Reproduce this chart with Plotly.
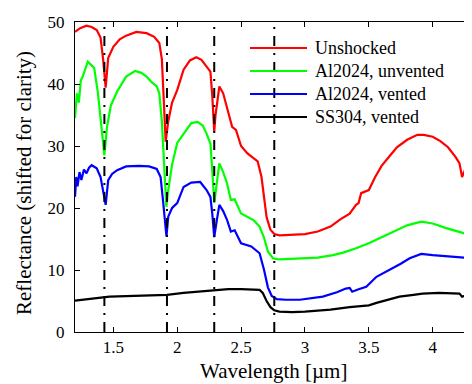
import plotly.graph_objects as go

# ---------------- data ----------------
red_x = [1.20,1.24,1.29,1.33,1.37,1.40,1.42,1.44,1.46,1.50,1.55,1.60,1.68,1.76,1.82,1.86,1.88,1.90,1.91,1.93,1.96,2.00,2.05,2.10,2.15,2.19,2.23,2.26,2.275,2.29,2.30,2.33,2.36,2.40,2.43,2.46,2.50,2.55,2.60,2.63,2.66,2.68,2.70,2.73,2.76,2.80,2.90,3.00,3.10,3.20,3.28,3.35,3.40,3.42,3.44,3.46,3.50,3.55,3.60,3.66,3.72,3.80,3.88,3.93,4.00,4.06,4.12,4.18,4.21,4.23,4.25,4.26,4.28,4.30]
red_y = [48.4,49.0,49.4,49.2,48.7,47.5,44.0,39.4,44.2,46.0,47.2,47.8,48.4,48.2,47.6,46.6,44.0,36.0,30.7,34.0,37.0,39.0,42.3,43.8,44.3,43.9,42.8,42.0,38.0,32.3,35.0,39.6,38.5,35.5,33.1,32.6,30.0,28.8,28.0,27.5,25.0,21.5,18.5,16.5,15.8,15.6,15.7,15.8,16.2,17.0,18.2,19.1,20.5,20.8,22.4,22.6,22.9,25.0,26.8,28.3,29.8,31.0,31.8,31.8,31.5,30.8,29.8,28.2,27.2,25.0,26.0,25.8,25.2,25.0]

green_x = [1.20,1.215,1.23,1.245,1.26,1.28,1.30,1.32,1.35,1.38,1.40,1.42,1.43,1.45,1.48,1.53,1.60,1.67,1.72,1.76,1.80,1.84,1.86,1.88,1.90,1.915,1.93,1.96,2.00,2.05,2.11,2.16,2.20,2.23,2.26,2.275,2.29,2.31,2.33,2.36,2.39,2.42,2.45,2.50,2.55,2.60,2.645,2.68,2.71,2.75,2.80,2.90,3.00,3.10,3.22,3.30,3.40,3.50,3.60,3.70,3.80,3.91,4.00,4.10,4.20,4.30]
green_y = [34.5,38.5,37.0,40.5,41.2,42.5,43.6,43.2,42.6,38.5,34.0,29.5,28.5,33.0,36.5,38.8,41.2,42.1,41.8,41.2,40.3,39.6,38.5,34.0,25.0,20.2,22.9,27.0,30.5,32.0,33.7,33.9,33.3,32.0,30.4,26.0,20.8,24.0,27.2,25.8,24.0,21.3,21.4,19.1,18.5,18.0,17.0,15.2,13.0,11.9,11.7,11.8,11.9,12.0,12.4,12.8,13.5,14.3,15.3,16.2,17.2,17.8,17.5,16.8,16.2,15.6]

blue_x = [1.20,1.21,1.22,1.235,1.25,1.27,1.29,1.31,1.33,1.37,1.40,1.42,1.44,1.46,1.49,1.53,1.60,1.70,1.78,1.84,1.87,1.89,1.905,1.916,1.93,1.96,2.00,2.05,2.11,2.18,2.23,2.26,2.275,2.29,2.31,2.33,2.36,2.39,2.42,2.45,2.50,2.58,2.645,2.68,2.71,2.74,2.78,2.85,2.96,3.05,3.14,3.25,3.32,3.35,3.37,3.42,3.48,3.56,3.66,3.75,3.82,3.91,4.00,4.10,4.20,4.30]
blue_y = [21.8,25.0,23.5,25.8,24.5,26.2,25.6,26.5,26.9,26.4,25.0,22.5,20.5,24.5,25.5,26.1,26.7,26.8,26.7,26.3,25.0,21.0,17.0,15.4,18.6,20.0,20.8,23.4,24.1,24.2,22.9,21.8,19.0,15.3,18.0,20.5,19.5,18.1,16.2,16.4,14.3,13.8,12.7,10.0,7.2,5.8,5.3,5.2,5.2,5.4,5.7,6.4,7.0,7.1,6.5,6.9,7.3,8.9,10.0,11.0,11.9,12.6,12.4,12.2,12.1,11.9]

black_x = [1.20,1.30,1.40,1.47,1.60,1.75,1.92,2.05,2.20,2.29,2.40,2.50,2.60,2.645,2.67,2.70,2.73,2.76,2.80,2.90,3.00,3.09,3.20,3.35,3.45,3.50,3.56,3.65,3.74,3.85,3.92,4.05,4.15,4.21,4.23,4.26,4.30]
black_y = [5.05,5.3,5.5,5.7,5.8,5.9,6.0,6.3,6.6,6.8,6.9,6.9,6.9,6.8,6.3,5.0,4.0,3.5,3.3,3.2,3.3,3.4,3.6,4.0,4.2,4.3,4.7,5.2,5.7,6.0,6.2,6.3,6.3,6.2,5.7,5.9,5.8]

series_names = ["Unshocked", "Al2024, unvented", "Al2024, vented", "SS304, vented"]
series_colors = ["#ff0000", "#00ff00", "#0000ff", "#000000"]
vline_x = [1.43, 1.92, 2.29, 2.76]

x_ticks = [1.5, 2, 2.5, 3, 3.5, 4]
x_tick_labels = ["1.5", "2", "2.5", "3", "3.5", "4"]
y_ticks = [0, 10, 20, 30, 40, 50]
x_title = "Wavelength [µm]"
y_title = "Reflectance (shifted for clarity)"

# ---------------- figure ----------------
FONT = "'Liberation Serif', 'Times New Roman', serif"
fig = go.Figure()
xs = [red_x, green_x, blue_x, black_x]
ys = [red_y, green_y, blue_y, black_y]
for x, y, n, c in zip(xs, ys, series_names, series_colors):
    fig.add_trace(go.Scatter(x=x, y=y, mode="lines", name=n,
                             line=dict(color=c, width=2.2), showlegend=False))

vx, vy = [], []
for v in vline_x:
    vx += [v, v, None]
    vy += [0, 50, None]
fig.add_trace(go.Scatter(x=vx, y=vy, mode="lines", showlegend=False,
                         line=dict(color="black", width=2, dash="10px,7px,2px,7px")))

# plot area in page px: x 75..471, y 22..332
L, R, T, B = 75, 471, 22, 332
def px2paper_x(p): return (p - L) / (R - L)
def px2paper_y(p): return (B - p) / (B - T)

# manual legend
rows = [48, 71, 94, 117]
for n, c, ry in zip(series_names, series_colors, rows):
    fig.add_shape(type="line", xref="paper", yref="paper",
                  x0=px2paper_x(250), x1=px2paper_x(307),
                  y0=px2paper_y(ry), y1=px2paper_y(ry),
                  line=dict(color=c, width=2))
    fig.add_annotation(xref="paper", yref="paper", x=px2paper_x(313), y=px2paper_y(ry),
                       text=n, showarrow=False, xanchor="left", yanchor="middle",
                       font=dict(family=FONT, size=18, color="black"))

# axis titles as annotations for precise placement
fig.add_annotation(xref="paper", yref="paper", x=px2paper_x(273), y=px2paper_y(371),
                   text=x_title, showarrow=False, xanchor="center", yanchor="middle",
                   font=dict(family=FONT, size=21, color="black"))
fig.add_annotation(xref="paper", yref="paper", x=px2paper_x(24), y=px2paper_y(183),
                   text=y_title, showarrow=False, xanchor="center", yanchor="middle",
                   textangle=-90, font=dict(family=FONT, size=21, color="black"))

axis_common = dict(showline=True, linecolor="black", linewidth=1, mirror="ticks",
                   ticks="inside", ticklen=5, tickcolor="black", showgrid=False,
                   zeroline=False, automargin=False,
                   tickfont=dict(family=FONT, size=17, color="black"))
fig.update_xaxes(range=[1.2, 4.3], tickvals=x_ticks, ticktext=x_tick_labels, **axis_common)
fig.update_yaxes(range=[0, 50], tickvals=y_ticks, ticklabelstandoff=6, **axis_common)
# page body has an 8px default margin, so the figure is 8px smaller each way
fig.update_layout(width=464, height=376, margin=dict(l=67, r=1, t=14, b=52),
                  plot_bgcolor="white", paper_bgcolor="white")
fig.write_html("out.html")
